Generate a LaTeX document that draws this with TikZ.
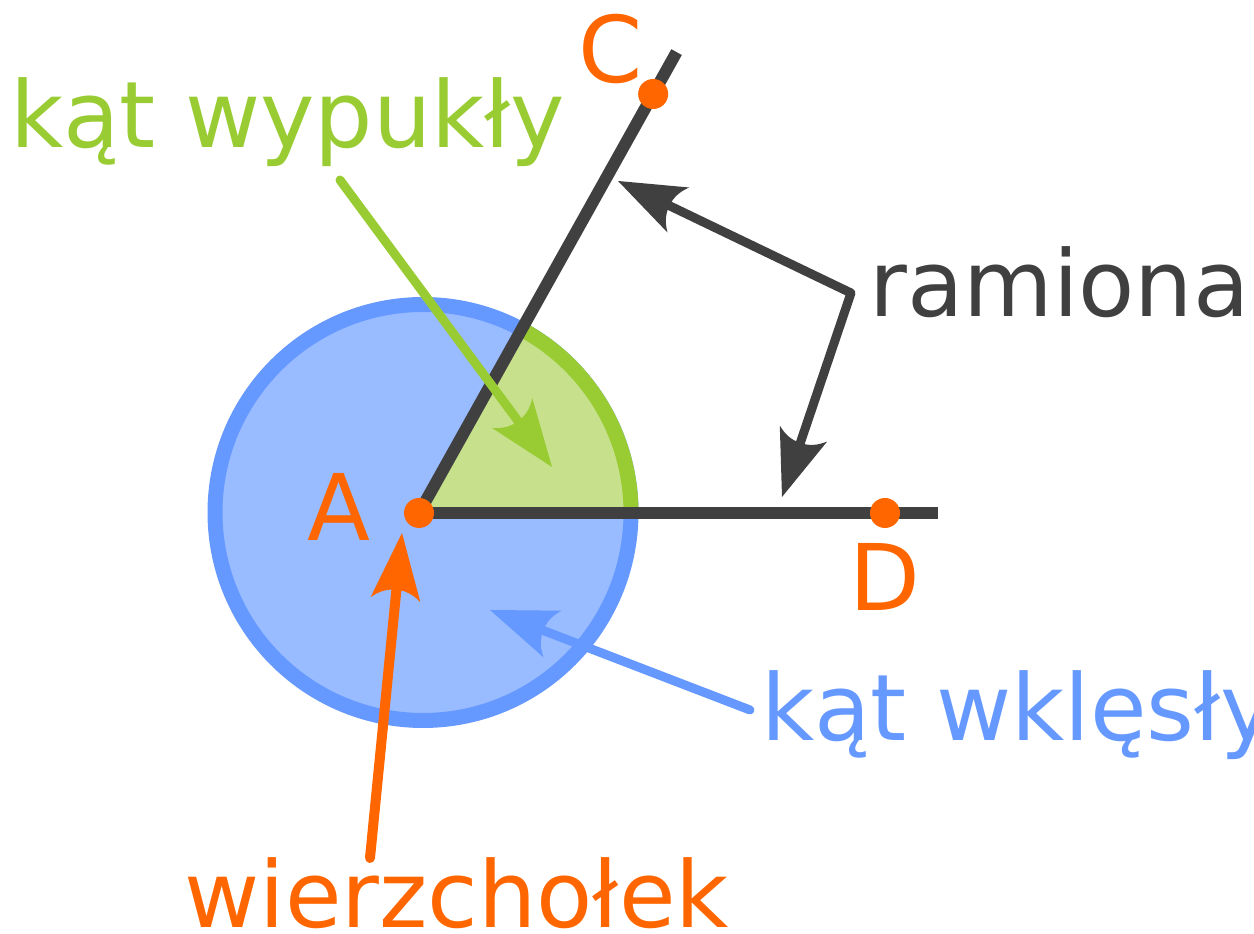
\documentclass[tikz,border=0pt]{standalone}
\usepackage{fontspec}
\setmainfont{DejaVu Sans}
\usetikzlibrary{arrows.meta}
\usetikzlibrary{calc}

\definecolor{ciemny}{HTML}{404040}
\definecolor{pomaranczowy}{HTML}{FF6600}
\definecolor{zielony}{HTML}{99CC33}
\definecolor{zielonyjasny}{HTML}{C6E08B}
\definecolor{niebieski}{HTML}{6699FF}
\definecolor{niebieskijasny}{HTML}{99BBFF}

% grot z wkleslym tylem
\pgfdeclarearrow{
  name = Grot,
  setup code = {
    \pgfarrowssettipend{0pt}
    \pgfarrowssetbackend{-67pt}
    \pgfarrowssetlineend{-50pt}
    \pgfarrowssetvisualbackend{-57pt}
  },
  drawing code = {
    \pgfpathmoveto{\pgfqpoint{0pt}{0pt}}
    \pgfpathlineto{\pgfqpoint{-67pt}{25pt}}
    \pgfpathcurveto{\pgfqpoint{-60pt}{17pt}}{\pgfqpoint{-57pt}{9pt}}{\pgfqpoint{-57pt}{0pt}}
    \pgfpathcurveto{\pgfqpoint{-57pt}{-9pt}}{\pgfqpoint{-60pt}{-17pt}}{\pgfqpoint{-67pt}{-25pt}}
    \pgfpathclose
    \pgfusepathqfill
  }
}

\begin{document}
\begin{tikzpicture}[x=1pt,y=1pt,
  >=Grot,
  ramie/.style={ciemny, line width=12pt},
  punkt/.style={circle, fill=pomaranczowy, minimum size=30pt, inner sep=0pt},
  napis/.style={font=\fontsize{92}{110}\selectfont, inner sep=0pt, anchor=base west},
  strzalka/.style={line width=9pt, line cap=round, line join=round}]
\useasboundingbox (0,0) rectangle (1254,934);

\coordinate (O) at (423,421.5);
\coordinate (A) at (419,421);

% kolo - kat wklesly
\filldraw[fill=niebieskijasny, draw=niebieski, line width=15pt] (O) circle (208);

% wycinek - kat wypukly
\fill[zielonyjasny] (A) -- ($(O)+(0:208)$) arc[start angle=0, end angle=60.8, radius=208] -- cycle;
\draw[zielony, line width=15pt] ($(O)+(0:208)$) arc[start angle=0, end angle=60.8, radius=208];

% ramiona
\draw[ramie] (A) -- ++(60.8:528);
\draw[ramie] (A) -- (938,421);

\node[punkt] (C) at ($(A)+(60.8:480)$) {};
\node[punkt] (Apkt) at (A) {};
\node[punkt] (D) at (885,421) {};

% napisy
\node[napis, text=pomaranczowy] (lC) at (578,851) {C};
\node[napis, text=pomaranczowy] (lA) at (307,393) {A};
\node[napis, text=pomaranczowy] (lD) at (849,323) {D};
\node[napis, text=zielony] (wypukly) at (10,786) {kąt wypukły};
\node[napis, text=ciemny] (ramiona) at (869,617) {ramiona};
\node[napis, text=niebieski] (wklesly) at (761,193) {kąt wklęsły};
\node[napis, text=pomaranczowy] (wierzcholek) at (184,6) {wierzchołek};

% strzalki
\coordinate (zPocz) at (340,754);
\coordinate (zKon) at (552,467);
\coordinate (r1) at (618,753);
\coordinate (rRog) at (851,641);
\coordinate (r2) at (782,437);
\coordinate (nPocz) at (750,224);
\coordinate (nKon) at (490,324);
\coordinate (pPocz) at (370,76);
\coordinate (pKon) at (402,401);

\draw[strzalka, zielony, ->] (zPocz) -- (zKon);
\draw[strzalka, ciemny, <->] (r1) -- (rRog) -- (r2);
\draw[strzalka, niebieski, ->] (nPocz) -- (nKon);
\draw[strzalka, pomaranczowy, line width=10pt, ->] (pPocz) -- (pKon);

\end{tikzpicture}
\end{document}
